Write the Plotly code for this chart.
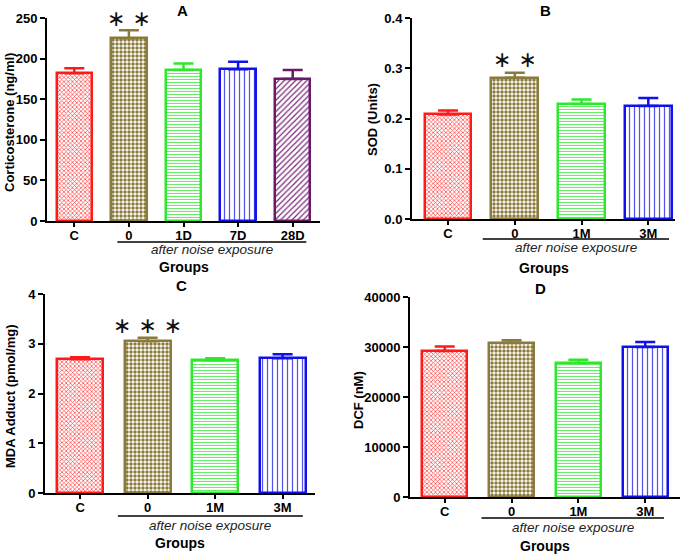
import plotly.graph_objects as go

W, H = 685, 554
FONT = "Liberation Sans, Arial, sans-serif"

# ---------------- data ----------------
cat_A = ["C", "0", "1D", "7D", "28D"]
cort_mean = [182, 225, 186, 187, 175]
cort_err = [6, 10, 8, 9, 11]
ticks_A = [0, 50, 100, 150, 200, 250]
ticklab_A = ["0", "50", "100", "150", "200", "250"]

cat_B = ["C", "0", "1M", "3M"]
sod_mean = [0.208, 0.281, 0.229, 0.225]
sod_err = [0.008, 0.010, 0.009, 0.016]
ticks_B = [0, 0.1, 0.2, 0.3, 0.4]
ticklab_B = ["0.0", "0.1", "0.2", "0.3", "0.4"]

cat_C = ["C", "0", "1M", "3M"]
mda_mean = [2.69, 3.05, 2.67, 2.71]
mda_err = [0.04, 0.07, 0.04, 0.08]
ticks_C = [0, 1, 2, 3, 4]
ticklab_C = ["0", "1", "2", "3", "4"]

cat_D = ["C", "0", "1M", "3M"]
dcf_mean = [29200, 30800, 26800, 30000]
dcf_err = [900, 550, 650, 1000]
ticks_D = [0, 10000, 20000, 30000, 40000]
ticklab_D = ["0", "10000", "20000", "30000", "40000"]

colors = ["#ff1a1a", "#8a7a3c", "#2ee82e", "#1010ee", "#6a1a6a"]
pattern_colors = ["#ff3a3a", "#8a7a3c", "#66ee66", "#5555ee", "#7a2a7a"]
patterns = [
    dict(shape="x", size=3, solidity=0.4),
    dict(shape=".", size=4, solidity=0.6),
    dict(shape="-", size=3, solidity=0.35),
    dict(shape="|", size=5, solidity=0.25),
    dict(shape="/", size=4, solidity=0.3),
]


def px(x):
    return x / W


def py(y):
    return 1 - y / H


fig = go.Figure()

panels = [
    dict(n="", cats=cat_A, m=cort_mean, e=cort_err, dom_x=(47, 320), dom_y=(221, 18),
         rng=[0, 250], tv=ticks_A, tt=ticklab_A, xr=[-0.5, 4.5], bw=0.65),
    dict(n="2", cats=cat_B, m=sod_mean, e=sod_err, dom_x=(412, 675), dom_y=(219, 18),
         rng=[0, 0.4], tv=ticks_B, tt=ticklab_B, xr=[-0.54, 3.4], bw=0.7),
    dict(n="3", cats=cat_C, m=mda_mean, e=mda_err, dom_x=(45, 315), dom_y=(493, 294),
         rng=[0, 4], tv=ticks_C, tt=ticklab_C, xr=[-0.52, 3.48], bw=0.68),
    dict(n="4", cats=cat_D, m=dcf_mean, e=dcf_err, dom_x=(410, 680), dom_y=(497, 297),
         rng=[0, 40000], tv=ticks_D, tt=ticklab_D, xr=[-0.52, 3.52], bw=0.68),
]

tickfont = dict(family=FONT, size=13, color="black")

for p in panels:
    n = p["n"]
    xs = list(range(len(p["cats"])))
    for i, x in enumerate(xs):
        fig.add_trace(go.Bar(
            x=[x], y=[p["m"][i]], width=p["bw"],
            marker=dict(color="white", line=dict(color=colors[i], width=2.5),
                        pattern=dict(fgcolor=pattern_colors[i], bgcolor="white", fillmode="replace",
                                     **patterns[i])),
            error_y=dict(type="data", symmetric=False, array=[p["e"][i]], arrayminus=[0],
                         color=colors[i], thickness=2.5, width=10),
            xaxis="x" + n, yaxis="y" + n, showlegend=False,
        ))
    ax = dict(
        domain=[px(p["dom_x"][0]), px(p["dom_x"][1])], range=p["xr"],
        tickmode="array", tickvals=xs, ticktext=["<b>%s</b>" % c for c in p["cats"]],
        showline=True, linecolor="black", linewidth=2, ticks="outside", ticklen=4,
        tickwidth=2, tickcolor="black", showgrid=False, zeroline=False,
        tickfont=dict(family=FONT, size=13, color="black"), ticklabelstandoff=-3,
        anchor="y" + n, fixedrange=True, automargin=False,
    )
    ay = dict(
        domain=[py(p["dom_y"][0]), py(p["dom_y"][1])], range=p["rng"],
        tickmode="array", tickvals=p["tv"], ticktext=["<b>%s</b>" % t for t in p["tt"]],
        showline=True, linecolor="black", linewidth=2, ticks="outside", ticklen=5,
        tickwidth=2, tickcolor="black", showgrid=False, zeroline=False,
        tickfont=tickfont, anchor="x" + n, fixedrange=True, automargin=False,
    )
    fig.update_layout(**{"xaxis" + n: ax, "yaxis" + n: ay})

annotations = []
shapes = []

# panel titles
for t, x, y in [("A", 182, 11), ("B", 545, 11), ("C", 181, 285), ("D", 540, 288)]:
    annotations.append(dict(text="<b>%s</b>" % t, x=px(x), y=py(y), xref="paper", yref="paper",
                            xanchor="center", yanchor="middle",
                            showarrow=False, font=dict(family=FONT, size=15, color="black")))

# y titles
for t, x, y in [("Corticosterone (ng/ml)", 9, 123), ("SOD (Units)", 373, 120),
                ("MDA Adduct (pmol/mg)", 10, 397), ("DCF (nM)", 358, 400)]:
    annotations.append(dict(text="<b>%s</b>" % t, x=px(x), y=py(y), xref="paper", yref="paper",
                            textangle=-90, xanchor="center", yanchor="middle",
                            showarrow=False, font=dict(family=FONT, size=13, color="black")))

# group lines + italic labels + "Groups"
groups = [
    (0, 0.79, 4.25, 242, 250, 267),
    (1, 0.52, 3.31, 239, 248, 268),
    (2, 0.56, 3.30, 516, 525, 543),
    (3, 0.55, 3.28, 518, 527, 546),
]
for k, x0, x1, yl, yt, yg in groups:
    n = panels[k]["n"]
    xr = panels[k]["xr"]
    shapes.append(dict(type="line", xref="x" + n, yref="paper", x0=x0, x1=x1, y0=py(yl), y1=py(yl),
                       line=dict(color="black", width=1.5)))
    annotations.append(dict(text="<i>after noise exposure</i>", x=(x0 + x1) / 2, y=py(yt), xref="x" + n,
                            yref="paper", xanchor="center", yanchor="middle", showarrow=False,
                            font=dict(family=FONT, size=13.5, color="#222222")))
    annotations.append(dict(text="<b>Groups</b>", x=(xr[0] + xr[1]) / 2,
                            y=py(yg), xref="x" + n, yref="paper", xanchor="center", yanchor="middle",
                            showarrow=False, font=dict(family=FONT, size=14, color="black")))

# significance asterisks
for k, stars, ypix in [(0, "∗ ∗", 18), (1, "∗ ∗", 60), (2, "∗ ∗ ∗", 325)]:
    n = panels[k]["n"]
    annotations.append(dict(text=stars, x=1, y=py(ypix), xref="x" + n, yref="paper", showarrow=False,
                            xanchor="center", yanchor="middle",
                            font=dict(family="DejaVu Sans", size=22, color="#111111")))

fig.update_layout(
    width=W, height=H, margin=dict(l=0, r=0, t=0, b=0, autoexpand=False),
    paper_bgcolor="white", plot_bgcolor="white", showlegend=False,
    annotations=annotations, shapes=shapes, bargap=0,
)

fig.write_html("out.html", config={"displayModeBar": False},
               post_script="document.body.style.margin='0';document.body.style.overflow='hidden';")
